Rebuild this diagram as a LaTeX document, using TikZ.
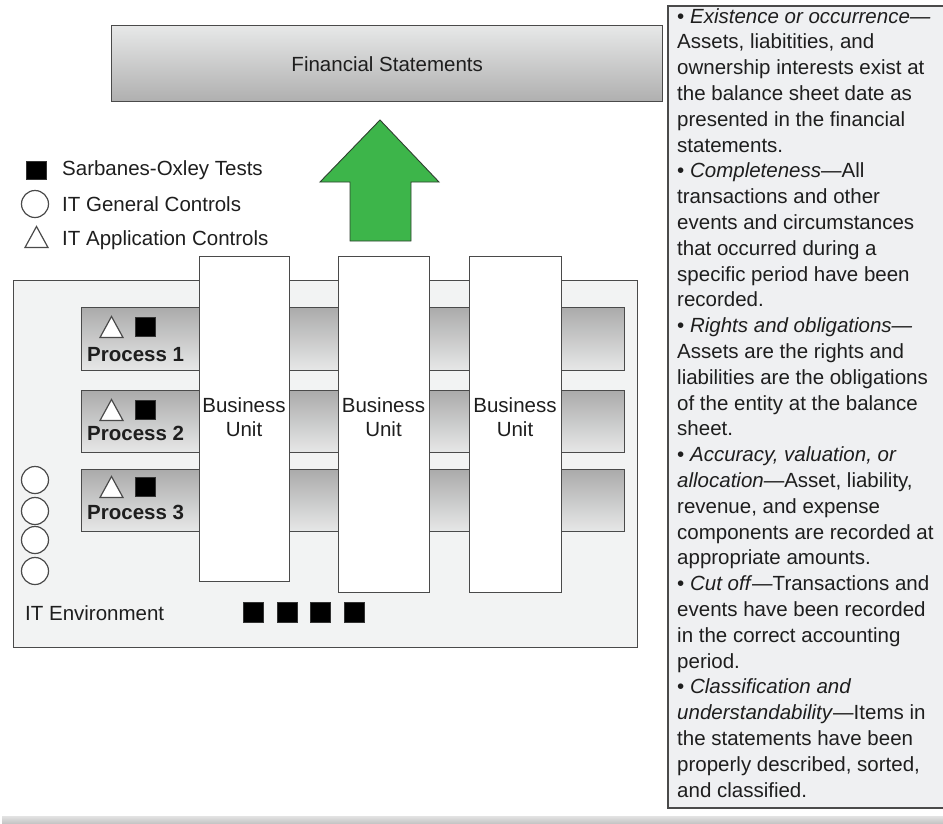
\documentclass[tikz,border=0pt]{standalone}
\usepackage{fontspec}
\setmainfont{Liberation Sans}
\definecolor{edge}{HTML}{4A4A4A}
\definecolor{ink}{HTML}{1E1E1E}
\definecolor{envfill}{HTML}{F2F3F3}
\definecolor{panelfill}{HTML}{EFF0F2}
\definecolor{shadeLight}{HTML}{E7E8E8}
\definecolor{shadeDark}{HTML}{ABABAB}
\definecolor{arrowgreen}{HTML}{3DB54A}
\definecolor{arrowedge}{HTML}{2F3F30}
\begin{document}
\begin{tikzpicture}[x=1pt,y=-1pt,
  txt/.style={text=ink, inner sep=0pt, font=\fontsize{20.5}{24}\selectfont},
  boxline/.style={draw=edge, line width=1.4pt},
  fsbox/.style={boxline, rectangle, anchor=north west, inner sep=0pt,
    top color=shadeLight, middle color=shadeLight!96!black, bottom color=shadeDark!95!white},
  procbox/.style={boxline, rectangle, anchor=north west, inner sep=0pt,
    top color=shadeDark, middle color=shadeLight!97!black, bottom color=shadeLight},
  unitbox/.style={boxline, rectangle, anchor=north west, inner sep=0pt, fill=white},
  gencircle/.style={draw=edge, line width=1.2pt, fill=white, circle, inner sep=0pt, minimum size=27pt},
  sox/.style={fill=black, draw=black!80, line width=0.6pt, rectangle, inner sep=0pt, minimum width=20pt, minimum height=19pt},
  apptri/.pic={\draw[draw=edge, line width=1.2pt, fill=white, line join=miter] (-11.5,10.5) -- (0,-10.5) -- (11.5,10.5) -- cycle;}
]
\useasboundingbox (0,0) rectangle (943,823);

% page shadow along the bottom
\shade[top color=gray!22, bottom color=gray!45] (2,816) rectangle (943,823);

% notes panel on the right
\draw[draw=edge, line width=1.4pt, fill=panelfill] (668,6) rectangle (948,808);
\node (notes) [txt, anchor=north west, align=left, font=\fontsize{20.5}{25.8}\selectfont] at (677,8) {%
• \textit{Existence or occurrence—}\\
Assets, liabitities, and\\
ownership interests exist at\\
the balance sheet date as\\
presented in the financial\\
statements.\\
• \textit{Completeness}—All\\
transactions and other\\
events and circumstances\\
that occurred during a\\
specific period have been\\
recorded.\\
• \textit{Rights and obligations—}\\
Assets are the rights and\\
liabilities are the obligations\\
of the entity at the balance\\
sheet.\\
• \textit{Accuracy, valuation, or}\\
\textit{allocation}—Asset, liability,\\
revenue, and expense\\
components are recorded at\\
appropriate amounts.\\
• \textit{Cut off}—Transactions and\\
events have been recorded\\
in the correct accounting\\
period.\\
• \textit{Classification and}\\
\textit{understandability}—Items in\\
the statements have been\\
properly described, sorted,\\
and classified.};

% financial statements banner
\node (fs) [fsbox, minimum width=551pt, minimum height=76pt] at (111,25) {};
\node (fslabel) [txt] at (fs.center) {Financial Statements};

% green arrow pointing up to the statements
\draw[fill=arrowgreen, draw=arrowedge, line width=0.9pt, line join=miter]
  (380,120) -- (439,182) -- (411,182) -- (411,241) -- (350,241) -- (350,182) -- (320,182) -- cycle;

% legend
\node (legsq) [sox, minimum width=20pt, minimum height=18pt] at (36,170) {};
\node (legsqt) [txt, anchor=west] at (62,170) {Sarbanes-Oxley Tests};
\node (legci) [gencircle] at (35,204) {};
\node (legcit) [txt, anchor=west] at (62,204) {IT General Controls};
\pic at (36.5,237) {apptri};
\node (legtrt) [txt, anchor=west] at (62,240) {IT Application Controls};

% IT environment
\node (env) [boxline, rectangle, anchor=north west, inner sep=0pt, fill=envfill,
  minimum width=624pt, minimum height=367pt] at (13,280) {};

% process bands
\node (p1) [procbox, minimum width=543pt, minimum height=63pt] at (81,307) {};
\node (p2) [procbox, minimum width=543pt, minimum height=62pt] at (81,390) {};
\node (p3) [procbox, minimum width=543pt, minimum height=62pt] at (81,469) {};

% business units on top of the bands
\node (bu1) [unitbox, minimum width=90pt, minimum height=325pt] at (199,256) {};
\node (bu2) [unitbox, minimum width=91pt, minimum height=336pt] at (338,256) {};
\node (bu3) [unitbox, minimum width=92pt, minimum height=336pt] at (469,256) {};
\foreach \u/\x in {bu1/244, bu2/383.5, bu3/515}
  \node (\u label) [txt, align=center] at (\x,417) {Business\\Unit};

% controls and tests inside each process
\foreach \p/\y in {p1/327, p2/410, p3/487} {
  \pic at (111.5,\y) {apptri};
  \node (\p sq) [sox] at (145.5,\y) {};
}
\node (p1label) [txt, anchor=west, font=\fontsize{20.5}{24}\selectfont\bfseries] at (87,355) {Process 1};
\node (p2label) [txt, anchor=west, font=\fontsize{20.5}{24}\selectfont\bfseries] at (87,433) {Process 2};
\node (p3label) [txt, anchor=west, font=\fontsize{20.5}{24}\selectfont\bfseries] at (87,512) {Process 3};

% general controls stacked on the left
\foreach \i/\y in {1/480, 2/511, 3/540, 4/571}
  \node (gc\i) [gencircle] at (35,\y) {};

% environment label and tests
\node (envlabel) [txt, anchor=west] at (25,613) {IT Environment};
\foreach \i/\x in {1/253, 2/287, 3/320, 4/354}
  \node (et\i) [sox, minimum height=20pt] at (\x,612) {};
\end{tikzpicture}
\end{document}
